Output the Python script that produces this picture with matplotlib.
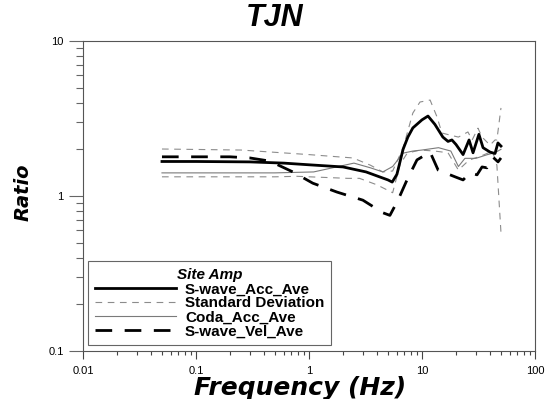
import matplotlib
matplotlib.use('Agg')
import matplotlib.pyplot as plt
from matplotlib.ticker import LogLocator, NullFormatter, FixedFormatter, FixedLocator

# S-wave acceleration spectral ratio (average)
acc_freq = [0.05, 0.1, 0.3, 0.6, 1.0, 2.0, 3.2, 4.2, 5.0, 5.45, 6.0, 6.8, 7.5,
            8.3, 10.0, 11.3, 13.0, 15.3, 17.0, 18.4, 20.0, 23.1, 26.1, 28.3,
            31.9, 34.7, 40.0, 44.3, 47.0, 50.0]
acc_ratio = [1.67, 1.67, 1.66, 1.63, 1.59, 1.54, 1.43, 1.33, 1.27, 1.23, 1.38,
             2.0, 2.4, 2.75, 3.1, 3.28, 2.9, 2.4, 2.25, 2.3, 2.15, 1.85, 2.3,
             1.9, 2.5, 2.05, 1.92, 1.88, 2.2, 2.1]

# standard deviation band (upper / lower)
std_up_freq = [0.05, 0.25, 1.0, 2.45, 3.5, 4.5, 5.5, 6.8, 8.3, 9.6, 11.8,
               13.6, 15.0, 17.8, 21.0, 25.5, 27.8, 31.3, 34.0, 40.0, 44.3,
               46.0, 50.0]
std_up_ratio = [2.01, 1.98, 1.85, 1.76, 1.58, 1.43, 1.45, 2.04, 3.43, 4.04,
                4.16, 3.23, 2.55, 2.47, 2.4, 2.59, 2.3, 2.74, 2.4, 2.13, 2.3,
                2.3, 3.7]
std_lo_freq = [0.05, 0.5, 0.78, 2.2, 2.8, 4.0, 5.5, 6.4, 7.4, 9.6, 13.0, 17.0,
               21.0, 26.0, 35.0, 42.0, 46.0, 50.0]
std_lo_ratio = [1.33, 1.33, 1.34, 1.30, 1.30, 1.18, 1.05, 1.6, 1.89, 1.98,
                1.95, 1.9, 1.47, 1.7, 1.84, 1.95, 1.58, 0.58]

# coda acceleration spectral ratio (average)
coda_freq = [0.05, 0.5, 1.1, 2.5, 3.5, 4.5, 5.5, 6.8, 8.3, 10.0, 14.0, 18.0,
             21.0, 24.0, 30.0, 38.0, 44.0, 50.0]
coda_ratio = [1.41, 1.41, 1.43, 1.63, 1.52, 1.43, 1.55, 1.89, 1.95, 1.98,
              2.05, 1.95, 1.55, 1.75, 1.75, 1.85, 1.9, 2.0]

# S-wave velocity spectral ratio (average)
vel_freq = [0.05, 0.2, 0.3, 0.45, 0.72, 1.08, 1.77, 3.0, 4.5, 5.2, 6.13, 7.37,
            9.03, 11.8, 13.9, 19.6, 23.1, 26.6, 30.7, 34.0, 37.6, 42.5, 47.1,
            50.0]
vel_ratio = [1.79, 1.79, 1.76, 1.68, 1.43, 1.21, 1.06, 0.94, 0.78, 0.75, 0.94,
             1.27, 1.71, 1.92, 1.47, 1.33, 1.27, 1.41, 1.37, 1.54, 1.52, 1.78,
             1.66, 1.76]

x_ticks = [0.01, 0.1, 1, 10, 100]
x_tick_labels = ['0.01', '0.1', '1', '10', '100']
y_ticks = [0.1, 1, 10]
y_tick_labels = ['0.1', '1', '10']

plt.rcParams['font.family'] = ['Liberation Sans', 'DejaVu Sans']

fig = plt.figure(figsize=(5.5, 3.99), dpi=100)
ax = fig.add_axes([0.1509, 0.1203, 0.8218, 0.7769])

ax.plot(acc_freq, acc_ratio, color='black', lw=2.0,
        label='S-wave_Acc_Ave', zorder=5)
ax.plot(std_up_freq, std_up_ratio, color='#8c8c8c', lw=0.8,
        dashes=(6, 5), label='Standard Deviation', zorder=3)
ax.plot(std_lo_freq, std_lo_ratio, color='#8c8c8c', lw=0.8,
        dashes=(6, 5), zorder=3)
ax.plot(coda_freq, coda_ratio, color='#7a7a7a', lw=0.8,
        label='Coda_Acc_Ave', zorder=4)
ax.plot(vel_freq, vel_ratio, color='black', lw=2.0,
        dashes=(6, 4.5), label='S-wave_Vel_Ave', zorder=5)

ax.set_xscale('log')
ax.set_yscale('log')
ax.set_xlim(0.01, 100)
ax.set_ylim(0.1, 10)

ax.xaxis.set_major_locator(FixedLocator(x_ticks))
ax.xaxis.set_major_formatter(FixedFormatter(x_tick_labels))
ax.yaxis.set_major_locator(FixedLocator(y_ticks))
ax.yaxis.set_major_formatter(FixedFormatter(y_tick_labels))
ax.xaxis.set_minor_locator(LogLocator(base=10, subs=range(2, 10)))
ax.yaxis.set_minor_locator(LogLocator(base=10, subs=range(2, 10)))
ax.xaxis.set_minor_formatter(NullFormatter())
ax.yaxis.set_minor_formatter(NullFormatter())

ax.tick_params(axis='x', which='major', direction='out', length=6,
               width=0.8, color='#444444', labelsize=8, pad=5)
ax.tick_params(axis='x', which='minor', direction='out', length=3,
               width=0.8, color='#444444')
ax.tick_params(axis='y', which='major', direction='out', length=10,
               width=0.8, color='#666666', labelsize=8, pad=4)
ax.tick_params(axis='y', which='minor', direction='out', length=5,
               width=0.8, color='#666666')

for sp in ax.spines.values():
    sp.set_color('#555555')
    sp.set_linewidth(0.8)

leg = ax.legend(loc='lower left', bbox_to_anchor=(0.011, 0.019),
                title='Site Amp', fontsize=11, handlelength=5.3,
                labelspacing=0.0, borderpad=0.45, handletextpad=0.6,
                frameon=True, fancybox=False, framealpha=1,
                edgecolor='#666666', borderaxespad=0)
leg.get_frame().set_linewidth(0.8)
for t in leg.get_texts():
    t.set_fontweight('bold')
leg.get_title().set_fontweight('bold')
leg.get_title().set_fontstyle('italic')
leg.get_title().set_fontsize(11)

fig.text(0.5, 1 - 18 / 399, 'TJN', ha='center', va='center',
         fontsize=22, fontweight='bold', fontstyle='italic')
fig.text(300 / 550, 1 - 388 / 399, 'Frequency (Hz)', ha='center',
         va='center', fontsize=18, fontweight='bold', fontstyle='italic',
         family='DejaVu Sans')
fig.text(23 / 550, 1 - 192 / 399, 'Ratio', ha='center', va='center',
         rotation=90, fontsize=14, fontweight='bold', fontstyle='italic',
         family='DejaVu Sans')

fig.savefig('out.png', dpi=100)
